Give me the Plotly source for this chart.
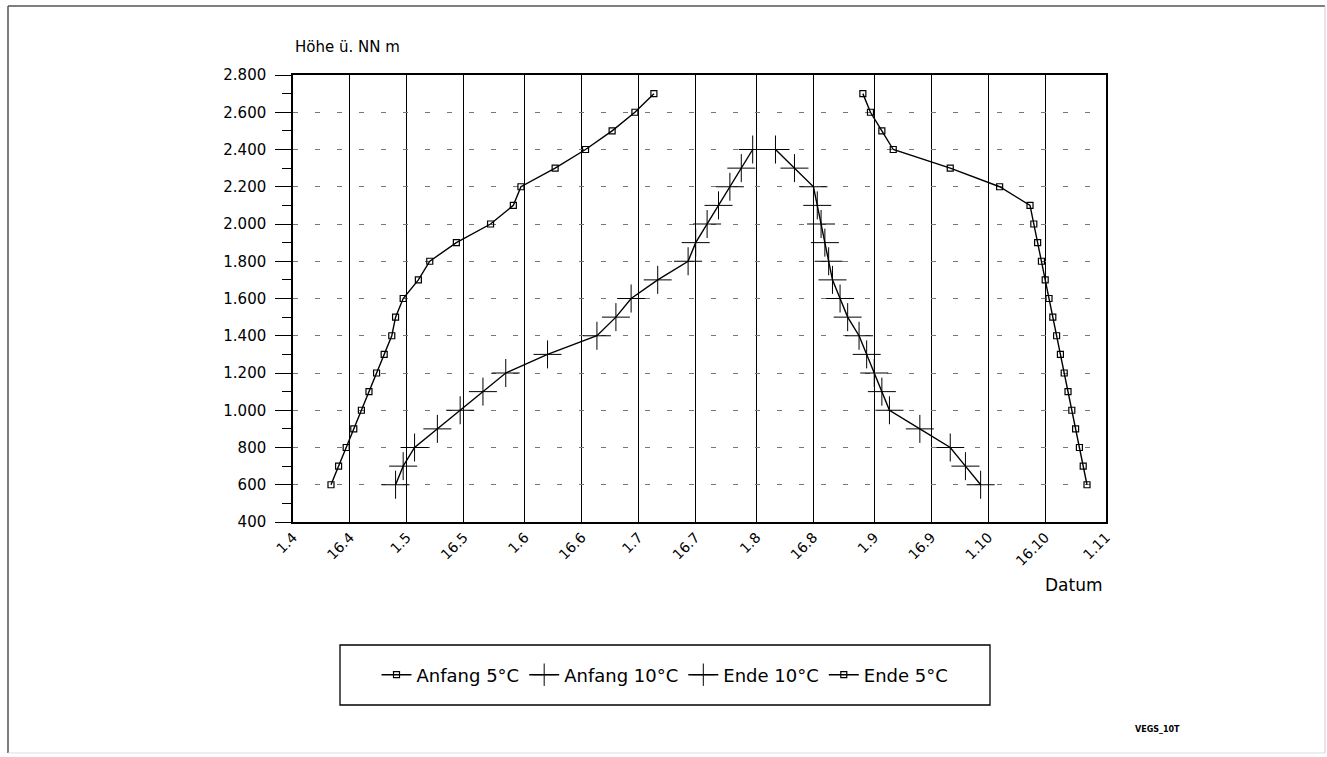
import plotly.graph_objects as go

# ---------------- data ----------------
hoehe_anfang5 = [600, 700, 800, 900, 1000, 1100, 1200, 1300, 1400, 1500, 1600,
                 1700, 1800, 1900, 2000, 2100, 2200, 2300, 2400, 2500, 2600, 2700]
datum_anfang5 = ["1990-04-11", "1990-04-13", "1990-04-15", "1990-04-17", "1990-04-19",
                 "1990-04-21", "1990-04-23", "1990-04-25", "1990-04-27", "1990-04-28",
                 "1990-04-30", "1990-05-04", "1990-05-07", "1990-05-14", "1990-05-23",
                 "1990-05-29", "1990-05-31", "1990-06-09", "1990-06-17", "1990-06-24",
                 "1990-06-30", "1990-07-05"]

hoehe_anfang10 = [600, 700, 800, 900, 1000, 1100, 1200, 1300, 1400, 1500, 1600,
                  1700, 1800, 1900, 2000, 2100, 2200, 2300, 2400]
datum_anfang10 = ["1990-04-28", "1990-04-30", "1990-05-03", "1990-05-09", "1990-05-15",
                  "1990-05-21", "1990-05-27", "1990-06-07", "1990-06-20", "1990-06-25",
                  "1990-06-29", "1990-07-06", "1990-07-14", "1990-07-16", "1990-07-19",
                  "1990-07-22", "1990-07-25", "1990-07-28", "1990-07-31"]

hoehe_ende10 = [2400, 2300, 2200, 2100, 2000, 1900, 1800, 1700, 1600, 1500,
                1400, 1300, 1200, 1100, 1000, 900, 800, 700, 600]
datum_ende10 = ["1990-08-06", "1990-08-11", "1990-08-16", "1990-08-17", "1990-08-18",
                "1990-08-19", "1990-08-20", "1990-08-21", "1990-08-23", "1990-08-25",
                "1990-08-28", "1990-08-30", "1990-09-01", "1990-09-03", "1990-09-05",
                "1990-09-13", "1990-09-21", "1990-09-25", "1990-09-29"]

hoehe_ende5 = [2700, 2600, 2500, 2400, 2300, 2200, 2100, 2000, 1900, 1800, 1700,
               1600, 1500, 1400, 1300, 1200, 1100, 1000, 900, 800, 700, 600]
datum_ende5 = ["1990-08-29", "1990-08-31", "1990-09-03", "1990-09-06", "1990-09-21",
               "1990-10-04", "1990-10-12", "1990-10-13", "1990-10-14", "1990-10-15",
               "1990-10-16", "1990-10-17", "1990-10-18", "1990-10-19", "1990-10-20",
               "1990-10-21", "1990-10-22", "1990-10-23", "1990-10-24", "1990-10-25",
               "1990-10-26", "1990-10-27"]

tick_dates = ["1990-04-01", "1990-04-16", "1990-05-01", "1990-05-16", "1990-06-01",
              "1990-06-16", "1990-07-01", "1990-07-16", "1990-08-01", "1990-08-16",
              "1990-09-01", "1990-09-16", "1990-10-01", "1990-10-16", "1990-11-01"]
tick_labels = ["1.4", "16.4", "1.5", "16.5", "1.6", "16.6", "1.7", "16.7", "1.8",
               "16.8", "1.9", "16.9", "1.10", "16.10", "1.11"]

FONT = "DejaVu Sans, Liberation Sans, Arial, sans-serif"

fig = go.Figure()

sq = dict(symbol="square-open", size=6, color="black", line=dict(width=1.2, color="black"))
cr = dict(symbol="cross-thin", size=20, color="black", line=dict(width=1, color="black"))

fig.add_trace(go.Scatter(x=datum_anfang5, y=hoehe_anfang5, mode="lines+markers",
                         name="Anfang 5°C", line=dict(color="black", width=1.4), marker=sq))
fig.add_trace(go.Scatter(x=datum_anfang10, y=hoehe_anfang10, mode="lines+markers",
                         name="Anfang 10°C", line=dict(color="black", width=1.4), marker=cr))
fig.add_trace(go.Scatter(x=datum_ende10, y=hoehe_ende10, mode="lines+markers",
                         name="Ende 10°C", line=dict(color="black", width=1.4), marker=cr))
fig.add_trace(go.Scatter(x=datum_ende5, y=hoehe_ende5, mode="lines+markers",
                         name="Ende 5°C", line=dict(color="black", width=1.4), marker=sq))

def px_x(p):
    return (p - 293) / 813.0

def px_y(p):
    return (522 - p) / 447.0

shapes = [
    # legend box
    dict(type="rect", xref="paper", yref="paper", x0=px_x(340), x1=px_x(990),
         y0=px_y(705), y1=px_y(645), line=dict(color="black", width=1.3)),
    # page frame
    dict(type="line", xref="paper", yref="paper", x0=px_x(8), x1=px_x(1325),
         y0=px_y(6), y1=px_y(6), line=dict(color="#555", width=1.5)),
    dict(type="line", xref="paper", yref="paper", x0=px_x(8), x1=px_x(8),
         y0=px_y(6), y1=px_y(753), line=dict(color="#555", width=1.5)),
    dict(type="line", xref="paper", yref="paper", x0=px_x(1325), x1=px_x(1325),
         y0=px_y(6), y1=px_y(753), line=dict(color="#ccc", width=1)),
    dict(type="line", xref="paper", yref="paper", x0=px_x(8), x1=px_x(1325),
         y0=px_y(753), y1=px_y(753), line=dict(color="#ddd", width=1)),
]

annotations = [
    dict(text="Höhe ü. NN m", xref="paper", yref="paper", x=px_x(293), y=px_y(47),
         xanchor="left", yanchor="middle", showarrow=False,
         font=dict(family=FONT, size=15, color="black")),
    dict(text="Datum", xref="paper", yref="paper", x=px_x(1105), y=px_y(585),
         xanchor="right", yanchor="middle", showarrow=False,
         font=dict(family=FONT, size=17, color="black")),
    dict(text="<b>VEGS_10T</b>", xref="paper", yref="paper", x=px_x(1133), y=px_y(729),
         xanchor="left", yanchor="middle", showarrow=False,
         font=dict(family=FONT, size=8, color="black")),
]

fig.update_layout(
    width=1327, height=757, autosize=False,
    margin=dict(l=293, r=221, t=75, b=235),
    paper_bgcolor="white", plot_bgcolor="white",
    separators=",.",
    font=dict(family=FONT, size=14, color="black"),
    showlegend=True,
    legend=dict(orientation="h", x=px_x(665), xanchor="center", y=px_y(675),
                yanchor="middle", font=dict(family=FONT, size=18, color="black"),
                bgcolor="rgba(0,0,0,0)", borderwidth=0, itemwidth=30),
    shapes=shapes,
    annotations=annotations,
    xaxis=dict(type="date", range=["1990-04-01", "1990-11-01"],
               tickmode="array", tickvals=tick_dates, ticktext=tick_labels,
               tickangle=-45, ticks="", showgrid=True, gridcolor="black", gridwidth=1,
               showline=True, linecolor="black", linewidth=1.5, mirror=True,
               zeroline=False, tickfont=dict(family=FONT, size=14)),
    yaxis=dict(range=[400, 2800], dtick=200, tick0=400, tickformat=",d",
               ticks="outside", ticklen=16, tickcolor="black", tickwidth=1,
               ticklabelstandoff=6,
               minor=dict(dtick=100, ticks="outside", ticklen=9, tickcolor="black",
                          showgrid=False),
               showgrid=True, gridcolor="#777", gridwidth=1, griddash="5px,17px",
               showline=True, linecolor="black", linewidth=1.5, mirror=True,
               zeroline=False, tickfont=dict(family=FONT, size=15)),
)

fig.write_html("out.html")
